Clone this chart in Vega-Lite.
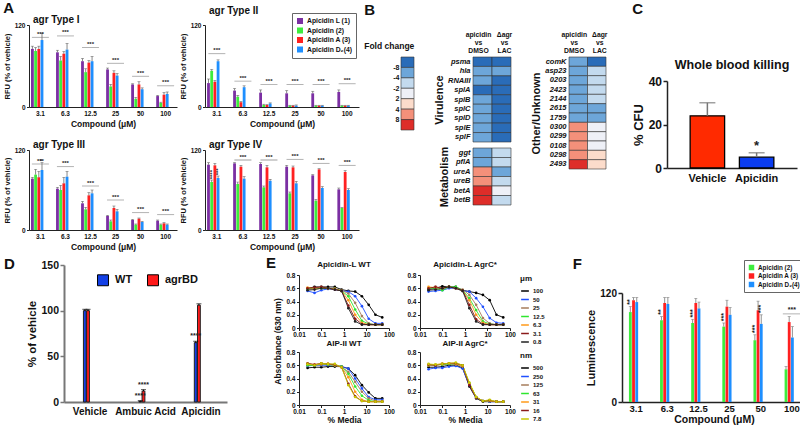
{
"$schema":"https://vega.github.io/schema/vega-lite/v6.json",
"background":"white",
"padding":{"left":2,"top":0,"right":0,"bottom":0},
"config":{
 "font":"Liberation Sans",
 "view":{"stroke":null},
 "axis":{"labelFont":"Liberation Sans","titleFont":"Liberation Sans","labelFontWeight":"bold","titleFontWeight":"bold","labelColor":"#111","titleColor":"#111","domainColor":"#222","tickColor":"#222","grid":false,"labelOverlap":false,"labelFlush":false,"tickSize":2.5,"labelPadding":1.5,"titlePadding":3,"labelFontSize":6.5,"titleFontSize":8},
 "title":{"font":"Liberation Sans","fontWeight":"bold","color":"#111"},
 "legend":{"labelFont":"Liberation Sans","titleFont":"Liberation Sans","labelFontWeight":"bold","titleFontWeight":"bold","labelColor":"#111","titleColor":"#111"},
 "text":{"font":"Liberation Sans","color":"#222"}
},
"datasets":{
 "a":[
  {"t":"I","c":"3.1","g":"Apicidin L (1)","v":85,"h":89},{"t":"I","c":"3.1","g":"Apicidin (2)","v":82,"h":87},{"t":"I","c":"3.1","g":"Apicidin A (3)","v":85,"h":89},{"t":"I","c":"3.1","g":"Apicidin D₂(4)","v":98,"h":108},
  {"t":"I","c":"6.3","g":"Apicidin L (1)","v":80,"h":83},{"t":"I","c":"6.3","g":"Apicidin (2)","v":68,"h":74},{"t":"I","c":"6.3","g":"Apicidin A (3)","v":78,"h":81},{"t":"I","c":"6.3","g":"Apicidin D₂(4)","v":84,"h":93},
  {"t":"I","c":"12.5","g":"Apicidin L (1)","v":67,"h":71},{"t":"I","c":"12.5","g":"Apicidin (2)","v":51,"h":56},{"t":"I","c":"12.5","g":"Apicidin A (3)","v":65,"h":68},{"t":"I","c":"12.5","g":"Apicidin D₂(4)","v":67,"h":74},
  {"t":"I","c":"25","g":"Apicidin L (1)","v":55,"h":57},{"t":"I","c":"25","g":"Apicidin (2)","v":30,"h":33},{"t":"I","c":"25","g":"Apicidin A (3)","v":50,"h":53},{"t":"I","c":"25","g":"Apicidin D₂(4)","v":46,"h":49},
  {"t":"I","c":"50","g":"Apicidin L (1)","v":33,"h":34},{"t":"I","c":"50","g":"Apicidin (2)","v":12,"h":14},{"t":"I","c":"50","g":"Apicidin A (3)","v":33,"h":37},{"t":"I","c":"50","g":"Apicidin D₂(4)","v":26,"h":28},
  {"t":"I","c":"100","g":"Apicidin L (1)","v":16,"h":17},{"t":"I","c":"100","g":"Apicidin (2)","v":6,"h":7},{"t":"I","c":"100","g":"Apicidin A (3)","v":18,"h":21},{"t":"I","c":"100","g":"Apicidin D₂(4)","v":19,"h":22},
  {"t":"II","c":"3.1","g":"Apicidin L (1)","v":35,"h":41},{"t":"II","c":"3.1","g":"Apicidin (2)","v":53,"h":55},{"t":"II","c":"3.1","g":"Apicidin A (3)","v":37,"h":39},{"t":"II","c":"3.1","g":"Apicidin D₂(4)","v":67,"h":69},
  {"t":"II","c":"6.3","g":"Apicidin L (1)","v":24,"h":27},{"t":"II","c":"6.3","g":"Apicidin (2)","v":15,"h":17},{"t":"II","c":"6.3","g":"Apicidin A (3)","v":7,"h":8},{"t":"II","c":"6.3","g":"Apicidin D₂(4)","v":29,"h":31},
  {"t":"II","c":"12.5","g":"Apicidin L (1)","v":21,"h":25},{"t":"II","c":"12.5","g":"Apicidin (2)","v":3,"h":4},{"t":"II","c":"12.5","g":"Apicidin A (3)","v":3,"h":3.5},{"t":"II","c":"12.5","g":"Apicidin D₂(4)","v":5,"h":6},
  {"t":"II","c":"25","g":"Apicidin L (1)","v":20,"h":24},{"t":"II","c":"25","g":"Apicidin (2)","v":2,"h":2.5},{"t":"II","c":"25","g":"Apicidin A (3)","v":2,"h":2.5},{"t":"II","c":"25","g":"Apicidin D₂(4)","v":2,"h":3},
  {"t":"II","c":"50","g":"Apicidin L (1)","v":20,"h":23},{"t":"II","c":"50","g":"Apicidin (2)","v":2,"h":2.5},{"t":"II","c":"50","g":"Apicidin A (3)","v":2,"h":2.5},{"t":"II","c":"50","g":"Apicidin D₂(4)","v":2,"h":2.5},
  {"t":"II","c":"100","g":"Apicidin L (1)","v":22,"h":25},{"t":"II","c":"100","g":"Apicidin (2)","v":2,"h":2.5},{"t":"II","c":"100","g":"Apicidin A (3)","v":2,"h":2.5},{"t":"II","c":"100","g":"Apicidin D₂(4)","v":2,"h":2.5},
  {"t":"III","c":"3.1","g":"Apicidin L (1)","v":77,"h":79},{"t":"III","c":"3.1","g":"Apicidin (2)","v":83,"h":91},{"t":"III","c":"3.1","g":"Apicidin A (3)","v":79,"h":88},{"t":"III","c":"3.1","g":"Apicidin D₂(4)","v":90,"h":101},
  {"t":"III","c":"6.3","g":"Apicidin L (1)","v":62,"h":64},{"t":"III","c":"6.3","g":"Apicidin (2)","v":60,"h":67},{"t":"III","c":"6.3","g":"Apicidin A (3)","v":70,"h":79},{"t":"III","c":"6.3","g":"Apicidin D₂(4)","v":80,"h":88},
  {"t":"III","c":"12.5","g":"Apicidin L (1)","v":40,"h":43},{"t":"III","c":"12.5","g":"Apicidin (2)","v":31,"h":34},{"t":"III","c":"12.5","g":"Apicidin A (3)","v":52,"h":56},{"t":"III","c":"12.5","g":"Apicidin D₂(4)","v":55,"h":60},
  {"t":"III","c":"25","g":"Apicidin L (1)","v":21,"h":22},{"t":"III","c":"25","g":"Apicidin (2)","v":13,"h":15},{"t":"III","c":"25","g":"Apicidin A (3)","v":33,"h":36},{"t":"III","c":"25","g":"Apicidin D₂(4)","v":28,"h":31},
  {"t":"III","c":"50","g":"Apicidin L (1)","v":15,"h":16},{"t":"III","c":"50","g":"Apicidin (2)","v":8,"h":9},{"t":"III","c":"50","g":"Apicidin A (3)","v":17,"h":18},{"t":"III","c":"50","g":"Apicidin D₂(4)","v":12,"h":13},
  {"t":"III","c":"100","g":"Apicidin L (1)","v":14,"h":15},{"t":"III","c":"100","g":"Apicidin (2)","v":8,"h":9},{"t":"III","c":"100","g":"Apicidin A (3)","v":10,"h":11},{"t":"III","c":"100","g":"Apicidin D₂(4)","v":8,"h":9},
  {"t":"IV","c":"3.1","g":"Apicidin L (1)","v":98,"h":101},{"t":"IV","c":"3.1","g":"Apicidin (2)","v":72,"h":75},{"t":"IV","c":"3.1","g":"Apicidin A (3)","v":97,"h":100},{"t":"IV","c":"3.1","g":"Apicidin D₂(4)","v":78,"h":81},
  {"t":"IV","c":"6.3","g":"Apicidin L (1)","v":100,"h":101},{"t":"IV","c":"6.3","g":"Apicidin (2)","v":69,"h":72},{"t":"IV","c":"6.3","g":"Apicidin A (3)","v":95,"h":97},{"t":"IV","c":"6.3","g":"Apicidin D₂(4)","v":77,"h":80},
  {"t":"IV","c":"12.5","g":"Apicidin L (1)","v":99,"h":101},{"t":"IV","c":"12.5","g":"Apicidin (2)","v":64,"h":66},{"t":"IV","c":"12.5","g":"Apicidin A (3)","v":94,"h":97},{"t":"IV","c":"12.5","g":"Apicidin D₂(4)","v":74,"h":76},
  {"t":"IV","c":"25","g":"Apicidin L (1)","v":95,"h":97},{"t":"IV","c":"25","g":"Apicidin (2)","v":55,"h":57},{"t":"IV","c":"25","g":"Apicidin A (3)","v":94,"h":96},{"t":"IV","c":"25","g":"Apicidin D₂(4)","v":70,"h":73},
  {"t":"IV","c":"50","g":"Apicidin L (1)","v":82,"h":83},{"t":"IV","c":"50","g":"Apicidin (2)","v":44,"h":46},{"t":"IV","c":"50","g":"Apicidin A (3)","v":91,"h":92},{"t":"IV","c":"50","g":"Apicidin D₂(4)","v":63,"h":65},
  {"t":"IV","c":"100","g":"Apicidin L (1)","v":61,"h":63},{"t":"IV","c":"100","g":"Apicidin (2)","v":33,"h":34},{"t":"IV","c":"100","g":"Apicidin A (3)","v":87,"h":89},{"t":"IV","c":"100","g":"Apicidin D₂(4)","v":60,"h":62}
 ],
 "sa":[
  {"t":"I","c":"3.1","y":102},{"t":"I","c":"6.3","y":104},{"t":"I","c":"12.5","y":87},{"t":"I","c":"25","y":64},{"t":"I","c":"50","y":45},{"t":"I","c":"100","y":31},
  {"t":"II","c":"3.1","y":78},{"t":"II","c":"6.3","y":38},{"t":"II","c":"12.5","y":33},{"t":"II","c":"25","y":33},{"t":"II","c":"50","y":33},{"t":"II","c":"100","y":34},
  {"t":"III","c":"3.1","y":99},{"t":"III","c":"6.3","y":95},{"t":"III","c":"12.5","y":66},{"t":"III","c":"25","y":45},{"t":"III","c":"50","y":26},{"t":"III","c":"100","y":23},
  {"t":"IV","c":"6.3","y":105},{"t":"IV","c":"12.5","y":105},{"t":"IV","c":"25","y":106},{"t":"IV","c":"50","y":100},{"t":"IV","c":"100","y":97}
 ],
 "sv":[
  {"t":"III","c":"3.1","g":"Apicidin D₂(4)","y":103,"s":"*"},
  {"t":"IV","c":"3.1","g":"Apicidin (2)","y":76,"s":"****"},
  {"t":"IV","c":"3.1","g":"Apicidin D₂(4)","y":82,"s":"***"}
 ],
 "fc":[{"k":0,"lo":0,"hi":1},{"k":1,"lo":1,"hi":2},{"k":2,"lo":2,"hi":3},{"k":3,"lo":3,"hi":4},{"k":4,"lo":4,"hi":5},{"k":5,"lo":5,"hi":6},{"k":6,"lo":6,"hi":7}],
 "hm":[
  {"s":"V","gene":"psma","col":"apicidin|vs|DMSO","k":0},{"s":"V","gene":"psma","col":"Δagr|vs|LAC","k":0},
  {"s":"V","gene":"hla","col":"apicidin|vs|DMSO","k":1},{"s":"V","gene":"hla","col":"Δagr|vs|LAC","k":1},
  {"s":"V","gene":"RNAIII","col":"apicidin|vs|DMSO","k":1},{"s":"V","gene":"RNAIII","col":"Δagr|vs|LAC","k":0},
  {"s":"V","gene":"splA","col":"apicidin|vs|DMSO","k":0},{"s":"V","gene":"splA","col":"Δagr|vs|LAC","k":0},
  {"s":"V","gene":"splB","col":"apicidin|vs|DMSO","k":1},{"s":"V","gene":"splB","col":"Δagr|vs|LAC","k":0},
  {"s":"V","gene":"splC","col":"apicidin|vs|DMSO","k":1},{"s":"V","gene":"splC","col":"Δagr|vs|LAC","k":0},
  {"s":"V","gene":"splD","col":"apicidin|vs|DMSO","k":1},{"s":"V","gene":"splD","col":"Δagr|vs|LAC","k":0},
  {"s":"V","gene":"splE","col":"apicidin|vs|DMSO","k":1},{"s":"V","gene":"splE","col":"Δagr|vs|LAC","k":0},
  {"s":"V","gene":"splF","col":"apicidin|vs|DMSO","k":1},{"s":"V","gene":"splF","col":"Δagr|vs|LAC","k":0},
  {"s":"M","gene":"ggt","col":"apicidin|vs|DMSO","k":1},{"s":"M","gene":"ggt","col":"Δagr|vs|LAC","k":2},
  {"s":"M","gene":"pflA","col":"apicidin|vs|DMSO","k":1},{"s":"M","gene":"pflA","col":"Δagr|vs|LAC","k":2},
  {"s":"M","gene":"ureA","col":"apicidin|vs|DMSO","k":5},{"s":"M","gene":"ureA","col":"Δagr|vs|LAC","k":1},
  {"s":"M","gene":"ureB","col":"apicidin|vs|DMSO","k":5},{"s":"M","gene":"ureB","col":"Δagr|vs|LAC","k":2},
  {"s":"M","gene":"betA","col":"apicidin|vs|DMSO","k":6},{"s":"M","gene":"betA","col":"Δagr|vs|LAC","k":3},
  {"s":"M","gene":"betB","col":"apicidin|vs|DMSO","k":6},{"s":"M","gene":"betB","col":"Δagr|vs|LAC","k":2},
  {"s":"O","gene":"comK","col":"apicidin|vs|DMSO","k":1},{"s":"O","gene":"comK","col":"Δagr|vs|LAC","k":0},
  {"s":"O","gene":"asp23","col":"apicidin|vs|DMSO","k":1},{"s":"O","gene":"asp23","col":"Δagr|vs|LAC","k":2},
  {"s":"O","gene":"0203","col":"apicidin|vs|DMSO","k":1},{"s":"O","gene":"0203","col":"Δagr|vs|LAC","k":2},
  {"s":"O","gene":"2423","col":"apicidin|vs|DMSO","k":1},{"s":"O","gene":"2423","col":"Δagr|vs|LAC","k":2},
  {"s":"O","gene":"2144","col":"apicidin|vs|DMSO","k":1},{"s":"O","gene":"2144","col":"Δagr|vs|LAC","k":2},
  {"s":"O","gene":"2615","col":"apicidin|vs|DMSO","k":1},{"s":"O","gene":"2615","col":"Δagr|vs|LAC","k":1},
  {"s":"O","gene":"1759","col":"apicidin|vs|DMSO","k":1},{"s":"O","gene":"1759","col":"Δagr|vs|LAC","k":1},
  {"s":"O","gene":"0300","col":"apicidin|vs|DMSO","k":5},{"s":"O","gene":"0300","col":"Δagr|vs|LAC","k":3},
  {"s":"O","gene":"0299","col":"apicidin|vs|DMSO","k":5},{"s":"O","gene":"0299","col":"Δagr|vs|LAC","k":3},
  {"s":"O","gene":"0108","col":"apicidin|vs|DMSO","k":5},{"s":"O","gene":"0108","col":"Δagr|vs|LAC","k":3},
  {"s":"O","gene":"0298","col":"apicidin|vs|DMSO","k":5},{"s":"O","gene":"0298","col":"Δagr|vs|LAC","k":4},
  {"s":"O","gene":"2493","col":"apicidin|vs|DMSO","k":6},{"s":"O","gene":"2493","col":"Δagr|vs|LAC","k":4}
 ],
 "wb":[{"g":"Vehicle","v":24,"h":30,"sig":""},{"g":"Apicidin","v":5,"h":7,"sig":"*"}],
 "dd":[
  {"g":"Vehicle","s":"WT","v":100,"h":101.5,"sig":""},{"g":"Vehicle","s":"agrBD","v":100,"h":101.5,"sig":""},
  {"g":"Ambuic Acid","s":"WT","v":0.5,"h":1.5,"sig":"****"},{"g":"Ambuic Acid","s":"agrBD","v":12,"h":13.5,"sig":"****"},
  {"g":"Apicidin","s":"WT","v":65,"h":66.5,"sig":"****"},{"g":"Apicidin","s":"agrBD","v":106,"h":107.5,"sig":""}
 ],
 "f":[
  {"c":"3.1","g":"Apicidin (2)","v":99,"h":105},{"c":"3.1","g":"Apicidin A (3)","v":112,"h":115},{"c":"3.1","g":"Apicidin D₂(4)","v":110,"h":115},
  {"c":"6.3","g":"Apicidin (2)","v":90,"h":94},{"c":"6.3","g":"Apicidin A (3)","v":109,"h":115},{"c":"6.3","g":"Apicidin D₂(4)","v":108,"h":115},
  {"c":"12.5","g":"Apicidin (2)","v":87,"h":91},{"c":"12.5","g":"Apicidin A (3)","v":109,"h":114},{"c":"12.5","g":"Apicidin D₂(4)","v":103,"h":110},
  {"c":"25","g":"Apicidin (2)","v":83,"h":87},{"c":"25","g":"Apicidin A (3)","v":105,"h":112},{"c":"25","g":"Apicidin D₂(4)","v":96,"h":104},
  {"c":"50","g":"Apicidin (2)","v":68,"h":74},{"c":"50","g":"Apicidin A (3)","v":101,"h":111},{"c":"50","g":"Apicidin D₂(4)","v":86,"h":96},
  {"c":"100","g":"Apicidin (2)","v":36,"h":39},{"c":"100","g":"Apicidin A (3)","v":88,"h":94},{"c":"100","g":"Apicidin D₂(4)","v":71,"h":83}
 ],
 "fv":[
  {"c":"3.1","g":"Apicidin (2)","y":107,"s":"**"},{"c":"6.3","g":"Apicidin (2)","y":96,"s":"**"},{"c":"12.5","g":"Apicidin (2)","y":93,"s":"***"},
  {"c":"25","g":"Apicidin (2)","y":89,"s":"***"},{"c":"50","g":"Apicidin (2)","y":76,"s":"***"},{"c":"50","g":"Apicidin D₂(4)","y":98,"s":"***"}
 ],
 "fs":[{"c":"100","y":97}],
 "e":[
  {"p":"TL","c":"100","x":0.024,"y":0.6},{"p":"TL","c":"100","x":0.049,"y":0.62},{"p":"TL","c":"100","x":0.098,"y":0.62},{"p":"TL","c":"100","x":0.195,"y":0.62},{"p":"TL","c":"100","x":0.39,"y":0.62},{"p":"TL","c":"100","x":0.78,"y":0.58},{"p":"TL","c":"100","x":1.56,"y":0.56},{"p":"TL","c":"100","x":3.13,"y":0.55},{"p":"TL","c":"100","x":6.25,"y":0.48},{"p":"TL","c":"100","x":12.5,"y":0.35},{"p":"TL","c":"100","x":25,"y":0.2},{"p":"TL","c":"100","x":50,"y":0.16},
  {"p":"TL","c":"50","x":0.024,"y":0.56},{"p":"TL","c":"50","x":0.049,"y":0.53},{"p":"TL","c":"50","x":0.098,"y":0.57},{"p":"TL","c":"50","x":0.195,"y":0.59},{"p":"TL","c":"50","x":0.39,"y":0.58},{"p":"TL","c":"50","x":0.78,"y":0.56},{"p":"TL","c":"50","x":1.56,"y":0.55},{"p":"TL","c":"50","x":3.13,"y":0.48},{"p":"TL","c":"50","x":6.25,"y":0.33},{"p":"TL","c":"50","x":12.5,"y":0.14},{"p":"TL","c":"50","x":25,"y":0.07},{"p":"TL","c":"50","x":50,"y":0.07},
  {"p":"TL","c":"25","x":0.024,"y":0.58},{"p":"TL","c":"25","x":0.049,"y":0.59},{"p":"TL","c":"25","x":0.098,"y":0.6},{"p":"TL","c":"25","x":0.195,"y":0.6},{"p":"TL","c":"25","x":0.39,"y":0.59},{"p":"TL","c":"25","x":0.78,"y":0.57},{"p":"TL","c":"25","x":1.56,"y":0.52},{"p":"TL","c":"25","x":3.13,"y":0.38},{"p":"TL","c":"25","x":6.25,"y":0.18},{"p":"TL","c":"25","x":12.5,"y":0.07},{"p":"TL","c":"25","x":25,"y":0.05},{"p":"TL","c":"25","x":50,"y":0.05},
  {"p":"TL","c":"12.5","x":0.024,"y":0.59},{"p":"TL","c":"12.5","x":0.049,"y":0.6},{"p":"TL","c":"12.5","x":0.098,"y":0.6},{"p":"TL","c":"12.5","x":0.195,"y":0.6},{"p":"TL","c":"12.5","x":0.39,"y":0.59},{"p":"TL","c":"12.5","x":0.78,"y":0.56},{"p":"TL","c":"12.5","x":1.56,"y":0.48},{"p":"TL","c":"12.5","x":3.13,"y":0.28},{"p":"TL","c":"12.5","x":6.25,"y":0.11},{"p":"TL","c":"12.5","x":12.5,"y":0.06},{"p":"TL","c":"12.5","x":25,"y":0.05},{"p":"TL","c":"12.5","x":50,"y":0.05},
  {"p":"TL","c":"6.3","x":0.024,"y":0.61},{"p":"TL","c":"6.3","x":0.049,"y":0.6},{"p":"TL","c":"6.3","x":0.098,"y":0.61},{"p":"TL","c":"6.3","x":0.195,"y":0.6},{"p":"TL","c":"6.3","x":0.39,"y":0.59},{"p":"TL","c":"6.3","x":0.78,"y":0.56},{"p":"TL","c":"6.3","x":1.56,"y":0.42},{"p":"TL","c":"6.3","x":3.13,"y":0.2},{"p":"TL","c":"6.3","x":6.25,"y":0.08},{"p":"TL","c":"6.3","x":12.5,"y":0.05},{"p":"TL","c":"6.3","x":25,"y":0.05},{"p":"TL","c":"6.3","x":50,"y":0.05},
  {"p":"TL","c":"3.1","x":0.024,"y":0.6},{"p":"TL","c":"3.1","x":0.049,"y":0.61},{"p":"TL","c":"3.1","x":0.098,"y":0.62},{"p":"TL","c":"3.1","x":0.195,"y":0.6},{"p":"TL","c":"3.1","x":0.39,"y":0.58},{"p":"TL","c":"3.1","x":0.78,"y":0.56},{"p":"TL","c":"3.1","x":1.56,"y":0.34},{"p":"TL","c":"3.1","x":3.13,"y":0.14},{"p":"TL","c":"3.1","x":6.25,"y":0.06},{"p":"TL","c":"3.1","x":12.5,"y":0.05},{"p":"TL","c":"3.1","x":25,"y":0.05},{"p":"TL","c":"3.1","x":50,"y":0.05},
  {"p":"TL","c":"0.8","x":0.024,"y":0.57},{"p":"TL","c":"0.8","x":0.049,"y":0.58},{"p":"TL","c":"0.8","x":0.098,"y":0.6},{"p":"TL","c":"0.8","x":0.195,"y":0.6},{"p":"TL","c":"0.8","x":0.39,"y":0.58},{"p":"TL","c":"0.8","x":0.78,"y":0.56},{"p":"TL","c":"0.8","x":1.56,"y":0.3},{"p":"TL","c":"0.8","x":3.13,"y":0.1},{"p":"TL","c":"0.8","x":6.25,"y":0.05},{"p":"TL","c":"0.8","x":12.5,"y":0.05},{"p":"TL","c":"0.8","x":25,"y":0.05},{"p":"TL","c":"0.8","x":50,"y":0.05},
  {"p":"TR","c":"100","x":0.024,"y":0.58},{"p":"TR","c":"100","x":0.049,"y":0.6},{"p":"TR","c":"100","x":0.098,"y":0.63},{"p":"TR","c":"100","x":0.195,"y":0.62},{"p":"TR","c":"100","x":0.39,"y":0.62},{"p":"TR","c":"100","x":0.78,"y":0.57},{"p":"TR","c":"100","x":1.56,"y":0.55},{"p":"TR","c":"100","x":3.13,"y":0.53},{"p":"TR","c":"100","x":6.25,"y":0.5},{"p":"TR","c":"100","x":12.5,"y":0.42},{"p":"TR","c":"100","x":25,"y":0.2},{"p":"TR","c":"100","x":50,"y":0.16},
  {"p":"TR","c":"50","x":0.024,"y":0.55},{"p":"TR","c":"50","x":0.049,"y":0.56},{"p":"TR","c":"50","x":0.098,"y":0.57},{"p":"TR","c":"50","x":0.195,"y":0.6},{"p":"TR","c":"50","x":0.39,"y":0.6},{"p":"TR","c":"50","x":0.78,"y":0.56},{"p":"TR","c":"50","x":1.56,"y":0.55},{"p":"TR","c":"50","x":3.13,"y":0.45},{"p":"TR","c":"50","x":6.25,"y":0.32},{"p":"TR","c":"50","x":12.5,"y":0.15},{"p":"TR","c":"50","x":25,"y":0.08},{"p":"TR","c":"50","x":50,"y":0.07},
  {"p":"TR","c":"25","x":0.024,"y":0.6},{"p":"TR","c":"25","x":0.049,"y":0.62},{"p":"TR","c":"25","x":0.098,"y":0.6},{"p":"TR","c":"25","x":0.195,"y":0.63},{"p":"TR","c":"25","x":0.39,"y":0.6},{"p":"TR","c":"25","x":0.78,"y":0.58},{"p":"TR","c":"25","x":1.56,"y":0.5},{"p":"TR","c":"25","x":3.13,"y":0.35},{"p":"TR","c":"25","x":6.25,"y":0.15},{"p":"TR","c":"25","x":12.5,"y":0.07},{"p":"TR","c":"25","x":25,"y":0.05},{"p":"TR","c":"25","x":50,"y":0.05},
  {"p":"TR","c":"12.5","x":0.024,"y":0.6},{"p":"TR","c":"12.5","x":0.049,"y":0.6},{"p":"TR","c":"12.5","x":0.098,"y":0.57},{"p":"TR","c":"12.5","x":0.195,"y":0.62},{"p":"TR","c":"12.5","x":0.39,"y":0.62},{"p":"TR","c":"12.5","x":0.78,"y":0.57},{"p":"TR","c":"12.5","x":1.56,"y":0.45},{"p":"TR","c":"12.5","x":3.13,"y":0.27},{"p":"TR","c":"12.5","x":6.25,"y":0.1},{"p":"TR","c":"12.5","x":12.5,"y":0.06},{"p":"TR","c":"12.5","x":25,"y":0.05},{"p":"TR","c":"12.5","x":50,"y":0.05},
  {"p":"TR","c":"6.3","x":0.024,"y":0.62},{"p":"TR","c":"6.3","x":0.049,"y":0.61},{"p":"TR","c":"6.3","x":0.098,"y":0.6},{"p":"TR","c":"6.3","x":0.195,"y":0.62},{"p":"TR","c":"6.3","x":0.39,"y":0.6},{"p":"TR","c":"6.3","x":0.78,"y":0.56},{"p":"TR","c":"6.3","x":1.56,"y":0.42},{"p":"TR","c":"6.3","x":3.13,"y":0.2},{"p":"TR","c":"6.3","x":6.25,"y":0.08},{"p":"TR","c":"6.3","x":12.5,"y":0.05},{"p":"TR","c":"6.3","x":25,"y":0.05},{"p":"TR","c":"6.3","x":50,"y":0.05},
  {"p":"TR","c":"3.1","x":0.024,"y":0.6},{"p":"TR","c":"3.1","x":0.049,"y":0.62},{"p":"TR","c":"3.1","x":0.098,"y":0.6},{"p":"TR","c":"3.1","x":0.195,"y":0.62},{"p":"TR","c":"3.1","x":0.39,"y":0.6},{"p":"TR","c":"3.1","x":0.78,"y":0.57},{"p":"TR","c":"3.1","x":1.56,"y":0.35},{"p":"TR","c":"3.1","x":3.13,"y":0.13},{"p":"TR","c":"3.1","x":6.25,"y":0.06},{"p":"TR","c":"3.1","x":12.5,"y":0.05},{"p":"TR","c":"3.1","x":25,"y":0.05},{"p":"TR","c":"3.1","x":50,"y":0.05},
  {"p":"TR","c":"0.8","x":0.024,"y":0.57},{"p":"TR","c":"0.8","x":0.049,"y":0.58},{"p":"TR","c":"0.8","x":0.098,"y":0.6},{"p":"TR","c":"0.8","x":0.195,"y":0.62},{"p":"TR","c":"0.8","x":0.39,"y":0.6},{"p":"TR","c":"0.8","x":0.78,"y":0.56},{"p":"TR","c":"0.8","x":1.56,"y":0.3},{"p":"TR","c":"0.8","x":3.13,"y":0.1},{"p":"TR","c":"0.8","x":6.25,"y":0.05},{"p":"TR","c":"0.8","x":12.5,"y":0.05},{"p":"TR","c":"0.8","x":25,"y":0.05},{"p":"TR","c":"0.8","x":50,"y":0.05},
  {"p":"BL","c":"500","x":0.024,"y":0.56},{"p":"BL","c":"500","x":0.049,"y":0.57},{"p":"BL","c":"500","x":0.098,"y":0.57},{"p":"BL","c":"500","x":0.195,"y":0.58},{"p":"BL","c":"500","x":0.39,"y":0.58},{"p":"BL","c":"500","x":0.78,"y":0.58},{"p":"BL","c":"500","x":1.56,"y":0.55},{"p":"BL","c":"500","x":3.13,"y":0.45},{"p":"BL","c":"500","x":6.25,"y":0.3},{"p":"BL","c":"500","x":12.5,"y":0.19},{"p":"BL","c":"500","x":25,"y":0.1},{"p":"BL","c":"500","x":50,"y":0.1},
  {"p":"BL","c":"250","x":0.024,"y":0.59},{"p":"BL","c":"250","x":0.049,"y":0.6},{"p":"BL","c":"250","x":0.098,"y":0.6},{"p":"BL","c":"250","x":0.195,"y":0.6},{"p":"BL","c":"250","x":0.39,"y":0.6},{"p":"BL","c":"250","x":0.78,"y":0.58},{"p":"BL","c":"250","x":1.56,"y":0.55},{"p":"BL","c":"250","x":3.13,"y":0.4},{"p":"BL","c":"250","x":6.25,"y":0.25},{"p":"BL","c":"250","x":12.5,"y":0.12},{"p":"BL","c":"250","x":25,"y":0.08},{"p":"BL","c":"250","x":50,"y":0.08},
  {"p":"BL","c":"125","x":0.024,"y":0.6},{"p":"BL","c":"125","x":0.049,"y":0.6},{"p":"BL","c":"125","x":0.098,"y":0.61},{"p":"BL","c":"125","x":0.195,"y":0.61},{"p":"BL","c":"125","x":0.39,"y":0.6},{"p":"BL","c":"125","x":0.78,"y":0.58},{"p":"BL","c":"125","x":1.56,"y":0.5},{"p":"BL","c":"125","x":3.13,"y":0.35},{"p":"BL","c":"125","x":6.25,"y":0.2},{"p":"BL","c":"125","x":12.5,"y":0.1},{"p":"BL","c":"125","x":25,"y":0.06},{"p":"BL","c":"125","x":50,"y":0.06},
  {"p":"BL","c":"63","x":0.024,"y":0.6},{"p":"BL","c":"63","x":0.049,"y":0.6},{"p":"BL","c":"63","x":0.098,"y":0.62},{"p":"BL","c":"63","x":0.195,"y":0.61},{"p":"BL","c":"63","x":0.39,"y":0.6},{"p":"BL","c":"63","x":0.78,"y":0.58},{"p":"BL","c":"63","x":1.56,"y":0.47},{"p":"BL","c":"63","x":3.13,"y":0.28},{"p":"BL","c":"63","x":6.25,"y":0.14},{"p":"BL","c":"63","x":12.5,"y":0.07},{"p":"BL","c":"63","x":25,"y":0.05},{"p":"BL","c":"63","x":50,"y":0.05},
  {"p":"BL","c":"31","x":0.024,"y":0.62},{"p":"BL","c":"31","x":0.049,"y":0.61},{"p":"BL","c":"31","x":0.098,"y":0.62},{"p":"BL","c":"31","x":0.195,"y":0.62},{"p":"BL","c":"31","x":0.39,"y":0.6},{"p":"BL","c":"31","x":0.78,"y":0.57},{"p":"BL","c":"31","x":1.56,"y":0.42},{"p":"BL","c":"31","x":3.13,"y":0.2},{"p":"BL","c":"31","x":6.25,"y":0.08},{"p":"BL","c":"31","x":12.5,"y":0.05},{"p":"BL","c":"31","x":25,"y":0.05},{"p":"BL","c":"31","x":50,"y":0.05},
  {"p":"BL","c":"16","x":0.024,"y":0.63},{"p":"BL","c":"16","x":0.049,"y":0.61},{"p":"BL","c":"16","x":0.098,"y":0.63},{"p":"BL","c":"16","x":0.195,"y":0.62},{"p":"BL","c":"16","x":0.39,"y":0.61},{"p":"BL","c":"16","x":0.78,"y":0.57},{"p":"BL","c":"16","x":1.56,"y":0.32},{"p":"BL","c":"16","x":3.13,"y":0.13},{"p":"BL","c":"16","x":6.25,"y":0.06},{"p":"BL","c":"16","x":12.5,"y":0.05},{"p":"BL","c":"16","x":25,"y":0.05},{"p":"BL","c":"16","x":50,"y":0.05},
  {"p":"BL","c":"7.8","x":0.024,"y":0.62},{"p":"BL","c":"7.8","x":0.049,"y":0.6},{"p":"BL","c":"7.8","x":0.098,"y":0.63},{"p":"BL","c":"7.8","x":0.195,"y":0.62},{"p":"BL","c":"7.8","x":0.39,"y":0.62},{"p":"BL","c":"7.8","x":0.78,"y":0.57},{"p":"BL","c":"7.8","x":1.56,"y":0.3},{"p":"BL","c":"7.8","x":3.13,"y":0.12},{"p":"BL","c":"7.8","x":6.25,"y":0.06},{"p":"BL","c":"7.8","x":12.5,"y":0.05},{"p":"BL","c":"7.8","x":25,"y":0.05},{"p":"BL","c":"7.8","x":50,"y":0.05},
  {"p":"BR","c":"500","x":0.024,"y":0.57},{"p":"BR","c":"500","x":0.049,"y":0.57},{"p":"BR","c":"500","x":0.098,"y":0.58},{"p":"BR","c":"500","x":0.195,"y":0.6},{"p":"BR","c":"500","x":0.39,"y":0.6},{"p":"BR","c":"500","x":0.78,"y":0.56},{"p":"BR","c":"500","x":1.56,"y":0.28},{"p":"BR","c":"500","x":3.13,"y":0.1},{"p":"BR","c":"500","x":6.25,"y":0.05},{"p":"BR","c":"500","x":12.5,"y":0.05},{"p":"BR","c":"500","x":25,"y":0.05},{"p":"BR","c":"500","x":50,"y":0.05},
  {"p":"BR","c":"250","x":0.024,"y":0.54},{"p":"BR","c":"250","x":0.049,"y":0.56},{"p":"BR","c":"250","x":0.098,"y":0.56},{"p":"BR","c":"250","x":0.195,"y":0.58},{"p":"BR","c":"250","x":0.39,"y":0.59},{"p":"BR","c":"250","x":0.78,"y":0.55},{"p":"BR","c":"250","x":1.56,"y":0.3},{"p":"BR","c":"250","x":3.13,"y":0.11},{"p":"BR","c":"250","x":6.25,"y":0.06},{"p":"BR","c":"250","x":12.5,"y":0.05},{"p":"BR","c":"250","x":25,"y":0.05},{"p":"BR","c":"250","x":50,"y":0.05},
  {"p":"BR","c":"125","x":0.024,"y":0.6},{"p":"BR","c":"125","x":0.049,"y":0.6},{"p":"BR","c":"125","x":0.098,"y":0.61},{"p":"BR","c":"125","x":0.195,"y":0.62},{"p":"BR","c":"125","x":0.39,"y":0.61},{"p":"BR","c":"125","x":0.78,"y":0.58},{"p":"BR","c":"125","x":1.56,"y":0.32},{"p":"BR","c":"125","x":3.13,"y":0.12},{"p":"BR","c":"125","x":6.25,"y":0.06},{"p":"BR","c":"125","x":12.5,"y":0.06},{"p":"BR","c":"125","x":25,"y":0.05},{"p":"BR","c":"125","x":50,"y":0.05},
  {"p":"BR","c":"63","x":0.024,"y":0.6},{"p":"BR","c":"63","x":0.049,"y":0.61},{"p":"BR","c":"63","x":0.098,"y":0.61},{"p":"BR","c":"63","x":0.195,"y":0.62},{"p":"BR","c":"63","x":0.39,"y":0.62},{"p":"BR","c":"63","x":0.78,"y":0.6},{"p":"BR","c":"63","x":1.56,"y":0.33},{"p":"BR","c":"63","x":3.13,"y":0.12},{"p":"BR","c":"63","x":6.25,"y":0.06},{"p":"BR","c":"63","x":12.5,"y":0.06},{"p":"BR","c":"63","x":25,"y":0.05},{"p":"BR","c":"63","x":50,"y":0.05},
  {"p":"BR","c":"31","x":0.024,"y":0.6},{"p":"BR","c":"31","x":0.049,"y":0.61},{"p":"BR","c":"31","x":0.098,"y":0.62},{"p":"BR","c":"31","x":0.195,"y":0.63},{"p":"BR","c":"31","x":0.39,"y":0.62},{"p":"BR","c":"31","x":0.78,"y":0.59},{"p":"BR","c":"31","x":1.56,"y":0.32},{"p":"BR","c":"31","x":3.13,"y":0.12},{"p":"BR","c":"31","x":6.25,"y":0.06},{"p":"BR","c":"31","x":12.5,"y":0.06},{"p":"BR","c":"31","x":25,"y":0.05},{"p":"BR","c":"31","x":50,"y":0.05},
  {"p":"BR","c":"16","x":0.024,"y":0.61},{"p":"BR","c":"16","x":0.049,"y":0.6},{"p":"BR","c":"16","x":0.098,"y":0.62},{"p":"BR","c":"16","x":0.195,"y":0.63},{"p":"BR","c":"16","x":0.39,"y":0.63},{"p":"BR","c":"16","x":0.78,"y":0.6},{"p":"BR","c":"16","x":1.56,"y":0.3},{"p":"BR","c":"16","x":3.13,"y":0.11},{"p":"BR","c":"16","x":6.25,"y":0.06},{"p":"BR","c":"16","x":12.5,"y":0.07},{"p":"BR","c":"16","x":25,"y":0.05},{"p":"BR","c":"16","x":50,"y":0.05},
  {"p":"BR","c":"7.8","x":0.024,"y":0.62},{"p":"BR","c":"7.8","x":0.049,"y":0.61},{"p":"BR","c":"7.8","x":0.098,"y":0.62},{"p":"BR","c":"7.8","x":0.195,"y":0.63},{"p":"BR","c":"7.8","x":0.39,"y":0.64},{"p":"BR","c":"7.8","x":0.78,"y":0.6},{"p":"BR","c":"7.8","x":1.56,"y":0.34},{"p":"BR","c":"7.8","x":3.13,"y":0.12},{"p":"BR","c":"7.8","x":6.25,"y":0.06},{"p":"BR","c":"7.8","x":12.5,"y":0.08},{"p":"BR","c":"7.8","x":25,"y":0.05},{"p":"BR","c":"7.8","x":50,"y":0.05}
 ]
},
"spacing":5,
"resolve":{"scale":{"color":"independent"},"legend":{"color":"independent"}},
"vconcat":[
 {"spacing":0,"resolve":{"scale":{"color":"independent"},"legend":{"color":"independent"}},
  "hconcat":[
   {"width":1,"height":1,"data":{"values":[]},"mark":{"type":"point","opacity":0},"encoding":{}},
   {"spacing":5,"resolve":{"scale":{"color":"independent"},"legend":{"color":"independent"}},
    "hconcat":[
     {"title":{"text":"A","anchor":"start","frame":"bounds","fontSize":15,"offset":-10},
      "columns":2,"bounds":"flush","spacing":{"row":43,"column":28},
      "resolve":{"scale":{"color":"independent"},"legend":{"color":"independent"}},
      "concat":[
       {"width":148,"height":82,"title":{"text":"agr Type I","anchor":"start","frame":"group","fontSize":10,"offset":-3,"dx":4},
        "layer":[
         {"data":{"name":"a"},"transform":[{"filter":"datum.t==='I'"}],"mark":{"type":"bar"},
          "encoding":{"x":{"field":"c","type":"ordinal","scale":{"domain":["3.1","6.3","12.5","25","50","100"],"paddingInner":0.25,"paddingOuter":0.08},"axis":{"title":"Compound (μM)","labelAngle":0,"ticks":false,"labelFontSize":6.5,"titleFontSize":8.5,"labelPadding":3}},
           "xOffset":{"field":"g","type":"nominal","scale":{"domain":["Apicidin L (1)","Apicidin (2)","Apicidin A (3)","Apicidin D₂(4)"],"paddingInner":0.12}},
           "y":{"field":"v","type":"quantitative","scale":{"domain":[0,120],"nice":false},"axis":{"title":"RFU (% of vehicle)","values":[0,20,40,60,80,100,120],"titleFontSize":7.5}},
           "color":{"field":"g","type":"nominal","scale":{"domain":["Apicidin L (1)","Apicidin (2)","Apicidin A (3)","Apicidin D₂(4)"],"range":["#7b2fa3","#3ded3d","#ff2020","#1e8fff"]},"legend":null}}},
         {"data":{"name":"a"},"transform":[{"filter":"datum.t==='I'"}],"mark":{"type":"rule","color":"#555","strokeWidth":0.7},
          "encoding":{"x":{"field":"c","type":"ordinal"},"xOffset":{"field":"g","type":"nominal"},"y":{"field":"v","type":"quantitative"},"y2":{"field":"h"}}},
         {"data":{"name":"a"},"transform":[{"filter":"datum.t==='I'"}],"mark":{"type":"tick","color":"#555","thickness":0.7,"size":3},
          "encoding":{"x":{"field":"c","type":"ordinal"},"xOffset":{"field":"g","type":"nominal"},"y":{"field":"h","type":"quantitative"}}},
         {"data":{"name":"sa"},"transform":[{"filter":"datum.t==='I'"}],"mark":{"type":"tick","color":"#777","thickness":0.8,"size":17},
          "encoding":{"x":{"field":"c","type":"ordinal"},"y":{"field":"y","type":"quantitative"}}},
         {"data":{"name":"sa"},"transform":[{"filter":"datum.t==='I'"}],"mark":{"type":"text","fontSize":6,"fontWeight":"bold","baseline":"bottom","dy":-0.5},
          "encoding":{"x":{"field":"c","type":"ordinal"},"y":{"field":"y","type":"quantitative"},"text":{"value":"***"}}}
        ]},
       {"width":154,"height":82,"title":{"text":"agr Type II","anchor":"start","frame":"group","fontSize":10,"offset":-3,"dx":4},
        "layer":[
         {"data":{"name":"a"},"transform":[{"filter":"datum.t==='II'"}],"mark":{"type":"bar"},
          "encoding":{"x":{"field":"c","type":"ordinal","scale":{"domain":["3.1","6.3","12.5","25","50","100"],"paddingInner":0.25,"paddingOuter":0.08},"axis":{"title":"Compound (μM)","labelAngle":0,"ticks":false,"labelFontSize":6.5,"titleFontSize":8.5,"labelPadding":3}},
           "xOffset":{"field":"g","type":"nominal","scale":{"domain":["Apicidin L (1)","Apicidin (2)","Apicidin A (3)","Apicidin D₂(4)"],"paddingInner":0.12}},
           "y":{"field":"v","type":"quantitative","scale":{"domain":[0,120],"nice":false},"axis":{"title":"RFU (% of vehicle)","values":[0,20,40,60,80,100,120],"titleFontSize":7.5}},
           "color":{"field":"g","type":"nominal","scale":{"domain":["Apicidin L (1)","Apicidin (2)","Apicidin A (3)","Apicidin D₂(4)"],"range":["#7b2fa3","#3ded3d","#ff2020","#1e8fff"]},
            "legend":{"orient":"none","legendX":87,"legendY":-12,"title":null,"strokeColor":"#666","fillColor":"white","padding":4,"symbolType":"square","symbolSize":36,"labelFontSize":6.8,"rowPadding":1.5,"labelOffset":3}}}},
         {"data":{"name":"a"},"transform":[{"filter":"datum.t==='II'"}],"mark":{"type":"rule","color":"#555","strokeWidth":0.7},
          "encoding":{"x":{"field":"c","type":"ordinal"},"xOffset":{"field":"g","type":"nominal"},"y":{"field":"v","type":"quantitative"},"y2":{"field":"h"}}},
         {"data":{"name":"a"},"transform":[{"filter":"datum.t==='II'"}],"mark":{"type":"tick","color":"#555","thickness":0.7,"size":3},
          "encoding":{"x":{"field":"c","type":"ordinal"},"xOffset":{"field":"g","type":"nominal"},"y":{"field":"h","type":"quantitative"}}},
         {"data":{"name":"sa"},"transform":[{"filter":"datum.t==='II'"}],"mark":{"type":"tick","color":"#777","thickness":0.8,"size":17},
          "encoding":{"x":{"field":"c","type":"ordinal"},"y":{"field":"y","type":"quantitative"}}},
         {"data":{"name":"sa"},"transform":[{"filter":"datum.t==='II'"}],"mark":{"type":"text","fontSize":6,"fontWeight":"bold","baseline":"bottom","dy":-0.5},
          "encoding":{"x":{"field":"c","type":"ordinal"},"y":{"field":"y","type":"quantitative"},"text":{"value":"***"}}}
        ]},
       {"width":148,"height":80,"title":{"text":"agr Type III","anchor":"start","frame":"group","fontSize":10,"offset":-3,"dx":4},
        "layer":[
         {"data":{"name":"a"},"transform":[{"filter":"datum.t==='III'"}],"mark":{"type":"bar"},
          "encoding":{"x":{"field":"c","type":"ordinal","scale":{"domain":["3.1","6.3","12.5","25","50","100"],"paddingInner":0.25,"paddingOuter":0.08},"axis":{"title":"Compound (μM)","labelAngle":0,"ticks":false,"labelFontSize":6.5,"titleFontSize":8.5,"labelPadding":3}},
           "xOffset":{"field":"g","type":"nominal","scale":{"domain":["Apicidin L (1)","Apicidin (2)","Apicidin A (3)","Apicidin D₂(4)"],"paddingInner":0.12}},
           "y":{"field":"v","type":"quantitative","scale":{"domain":[0,120],"nice":false},"axis":{"title":"RFU (% of vehicle)","values":[0,20,40,60,80,100,120],"titleFontSize":7.5}},
           "color":{"field":"g","type":"nominal","scale":{"domain":["Apicidin L (1)","Apicidin (2)","Apicidin A (3)","Apicidin D₂(4)"],"range":["#7b2fa3","#3ded3d","#ff2020","#1e8fff"]},"legend":null}}},
         {"data":{"name":"a"},"transform":[{"filter":"datum.t==='III'"}],"mark":{"type":"rule","color":"#555","strokeWidth":0.7},
          "encoding":{"x":{"field":"c","type":"ordinal"},"xOffset":{"field":"g","type":"nominal"},"y":{"field":"v","type":"quantitative"},"y2":{"field":"h"}}},
         {"data":{"name":"a"},"transform":[{"filter":"datum.t==='III'"}],"mark":{"type":"tick","color":"#555","thickness":0.7,"size":3},
          "encoding":{"x":{"field":"c","type":"ordinal"},"xOffset":{"field":"g","type":"nominal"},"y":{"field":"h","type":"quantitative"}}},
         {"data":{"name":"sa"},"transform":[{"filter":"datum.t==='III'"}],"mark":{"type":"tick","color":"#777","thickness":0.8,"size":17},
          "encoding":{"x":{"field":"c","type":"ordinal"},"y":{"field":"y","type":"quantitative"}}},
         {"data":{"name":"sa"},"transform":[{"filter":"datum.t==='III'"}],"mark":{"type":"text","fontSize":6,"fontWeight":"bold","baseline":"bottom","dy":-0.5},
          "encoding":{"x":{"field":"c","type":"ordinal"},"y":{"field":"y","type":"quantitative"},"text":{"value":"***"}}},
         {"data":{"name":"sv"},"transform":[{"filter":"datum.t==='III'"}],"mark":{"type":"text","fontSize":6,"fontWeight":"bold","angle":270,"align":"left","baseline":"middle"},
          "encoding":{"x":{"field":"c","type":"ordinal"},"xOffset":{"field":"g","type":"nominal"},"y":{"field":"y","type":"quantitative"},"text":{"field":"s"}}}
        ]},
       {"width":154,"height":80,"title":{"text":"agr Type IV","anchor":"start","frame":"group","fontSize":10,"offset":-3,"dx":4},
        "layer":[
         {"data":{"name":"a"},"transform":[{"filter":"datum.t==='IV'"}],"mark":{"type":"bar"},
          "encoding":{"x":{"field":"c","type":"ordinal","scale":{"domain":["3.1","6.3","12.5","25","50","100"],"paddingInner":0.25,"paddingOuter":0.08},"axis":{"title":"Compound (μM)","labelAngle":0,"ticks":false,"labelFontSize":6.5,"titleFontSize":8.5,"labelPadding":3}},
           "xOffset":{"field":"g","type":"nominal","scale":{"domain":["Apicidin L (1)","Apicidin (2)","Apicidin A (3)","Apicidin D₂(4)"],"paddingInner":0.12}},
           "y":{"field":"v","type":"quantitative","scale":{"domain":[0,120],"nice":false},"axis":{"title":"RFU (% of vehicle)","values":[0,20,40,60,80,100,120],"titleFontSize":7.5}},
           "color":{"field":"g","type":"nominal","scale":{"domain":["Apicidin L (1)","Apicidin (2)","Apicidin A (3)","Apicidin D₂(4)"],"range":["#7b2fa3","#3ded3d","#ff2020","#1e8fff"]},"legend":null}}},
         {"data":{"name":"a"},"transform":[{"filter":"datum.t==='IV'"}],"mark":{"type":"rule","color":"#555","strokeWidth":0.7},
          "encoding":{"x":{"field":"c","type":"ordinal"},"xOffset":{"field":"g","type":"nominal"},"y":{"field":"v","type":"quantitative"},"y2":{"field":"h"}}},
         {"data":{"name":"a"},"transform":[{"filter":"datum.t==='IV'"}],"mark":{"type":"tick","color":"#555","thickness":0.7,"size":3},
          "encoding":{"x":{"field":"c","type":"ordinal"},"xOffset":{"field":"g","type":"nominal"},"y":{"field":"h","type":"quantitative"}}},
         {"data":{"name":"sa"},"transform":[{"filter":"datum.t==='IV'"}],"mark":{"type":"tick","color":"#777","thickness":0.8,"size":17},
          "encoding":{"x":{"field":"c","type":"ordinal"},"y":{"field":"y","type":"quantitative"}}},
         {"data":{"name":"sa"},"transform":[{"filter":"datum.t==='IV'"}],"mark":{"type":"text","fontSize":6,"fontWeight":"bold","baseline":"bottom","dy":-0.5},
          "encoding":{"x":{"field":"c","type":"ordinal"},"y":{"field":"y","type":"quantitative"},"text":{"value":"***"}}},
         {"data":{"name":"sv"},"transform":[{"filter":"datum.t==='IV'"}],"mark":{"type":"text","fontSize":6,"fontWeight":"bold","angle":270,"align":"left","baseline":"middle"},
          "encoding":{"x":{"field":"c","type":"ordinal"},"xOffset":{"field":"g","type":"nominal"},"y":{"field":"y","type":"quantitative"},"text":{"field":"s"}}}
        ]}
      ]},
     {"spacing":25,"resolve":{"scale":{"color":"independent"},"legend":{"color":"independent"}},
      "hconcat":[
       {"title":{"text":"B","anchor":"start","frame":"bounds","fontSize":15,"offset":7},
        "spacing":5,"resolve":{"scale":{"color":"independent"},"legend":{"color":"independent"}},
        "vconcat":[
         {"width":1,"height":1,"data":{"values":[]},"mark":{"type":"point","opacity":0},"encoding":{}},
         {"spacing":18,"resolve":{"scale":{"color":"independent"},"legend":{"color":"independent"}},
          "hconcat":[
           {"width":13,"height":73,"title":{"text":"Fold change","anchor":"end","fontSize":8.5,"offset":6},
            "data":{"name":"fc"},"mark":{"type":"rect","stroke":"#333","strokeWidth":0.6},
            "encoding":{
             "y":{"field":"lo","type":"quantitative","scale":{"domain":[0,7],"reverse":true,"nice":false,"zero":false},"axis":{"values":[1,2,3,4,5,6],"labelExpr":"['','-8','-4','-2','2','4','8'][datum.value]","title":null,"domain":false,"ticks":false,"labelFontSize":7,"labelPadding":2}},
             "y2":{"field":"hi"},
             "color":{"field":"k","type":"ordinal","scale":{"domain":[0,1,2,3,4,5,6],"range":["#2a6cb8","#6da6d9","#c3daee","#eef0f7","#fcdccb","#f4907a","#de2d29"]},"legend":null}}},
           {"spacing":3,"resolve":{"scale":{"color":"independent"},"legend":{"color":"independent"}},
            "vconcat":[
             {"width":38,"height":85,"data":{"name":"hm"},"transform":[{"filter":"datum.s==='V'"}],
              "mark":{"type":"rect","stroke":"#333","strokeWidth":0.6},
              "encoding":{
               "x":{"field":"col","type":"nominal","sort":null,"axis":{"orient":"top","title":null,"labelAngle":0,"labelExpr":"split(datum.label,'|')","labelBaseline":"bottom","labelOffset":{"condition":{"test":"datum.value === 'apicidin|vs|DMSO'","value":-4},"value":3},"domain":false,"ticks":false,"labelFontSize":6.8,"labelLineHeight":8,"labelPadding":20}},
               "y":{"field":"gene","type":"nominal","sort":null,"axis":{"title":"Virulence","domain":false,"ticks":false,"labelFontStyle":"italic","labelFontSize":7.5,"titleFontSize":11,"labelPadding":3,"titlePadding":3}},
               "color":{"field":"k","type":"ordinal","scale":{"domain":[0,1,2,3,4,5,6],"range":["#2a6cb8","#6da6d9","#c3daee","#eef0f7","#fcdccb","#f4907a","#de2d29"]},"legend":null}}},
             {"width":38,"height":57,"data":{"name":"hm"},"transform":[{"filter":"datum.s==='M'"}],
              "mark":{"type":"rect","stroke":"#333","strokeWidth":0.6},
              "encoding":{
               "x":{"field":"col","type":"nominal","sort":null,"axis":null},
               "y":{"field":"gene","type":"nominal","sort":null,"axis":{"title":"Metabolism","domain":false,"ticks":false,"labelFontStyle":"italic","labelFontSize":7.5,"titleFontSize":11,"labelPadding":3,"titlePadding":3}},
               "color":{"field":"k","type":"ordinal","scale":{"domain":[0,1,2,3,4,5,6],"range":["#2a6cb8","#6da6d9","#c3daee","#eef0f7","#fcdccb","#f4907a","#de2d29"]},"legend":null}}}
            ]},
           {"width":37,"height":112,"data":{"name":"hm"},"transform":[{"filter":"datum.s==='O'"}],
            "mark":{"type":"rect","stroke":"#333","strokeWidth":0.6},
            "encoding":{
             "x":{"field":"col","type":"nominal","sort":null,"axis":{"orient":"top","title":null,"labelAngle":0,"labelExpr":"split(datum.label,'|')","labelBaseline":"bottom","labelOffset":{"condition":{"test":"datum.value === 'apicidin|vs|DMSO'","value":-4},"value":3},"domain":false,"ticks":false,"labelFontSize":6.8,"labelLineHeight":8,"labelPadding":20}},
             "y":{"field":"gene","type":"nominal","sort":null,"axis":{"title":"Other/Unknown","domain":false,"ticks":false,"labelFontStyle":"italic","labelFontSize":7.5,"titleFontSize":11,"labelPadding":3,"titlePadding":3}},
             "color":{"field":"k","type":"ordinal","scale":{"domain":[0,1,2,3,4,5,6],"range":["#2a6cb8","#6da6d9","#c3daee","#eef0f7","#fcdccb","#f4907a","#de2d29"]},"legend":null}}}
          ]}
        ]},
       {"title":{"text":"C","anchor":"start","frame":"bounds","fontSize":15,"offset":8},
        "spacing":32,"resolve":{"scale":{"color":"independent"},"legend":{"color":"independent"}},
        "vconcat":[
         {"width":1,"height":1,"data":{"values":[]},"mark":{"type":"point","opacity":0},"encoding":{}},
         {"width":130,"height":87,"title":{"text":"Whole blood killing","fontSize":12.5,"offset":4},
          "data":{"name":"wb"},
          "layer":[
           {"mark":{"type":"bar","stroke":"#000","strokeWidth":1.3},
            "encoding":{"x":{"field":"g","type":"nominal","scale":{"domain":["Vehicle","Apicidin"],"paddingInner":0.3,"paddingOuter":0.47},"axis":{"title":null,"labelAngle":0,"ticks":false,"labelFontSize":11,"domainWidth":1.5,"labelPadding":4}},
             "y":{"field":"v","type":"quantitative","scale":{"domain":[0,40],"nice":false},"axis":{"values":[0,10,20,30,40],"title":"% CFU","labelFontSize":12,"titleFontSize":13,"domainWidth":1.5,"tickWidth":1.5,"tickSize":4}},
             "color":{"field":"g","type":"nominal","scale":{"domain":["Vehicle","Apicidin"],"range":["#ff2a00","#0a3cf0"]},"legend":null}}},
           {"mark":{"type":"rule","color":"#777","strokeWidth":1.5},
            "encoding":{"x":{"field":"g","type":"nominal"},"y":{"field":"v","type":"quantitative"},"y2":{"field":"h"}}},
           {"mark":{"type":"tick","color":"#777","thickness":1.5,"size":16},
            "encoding":{"x":{"field":"g","type":"nominal"},"y":{"field":"h","type":"quantitative"}}},
           {"mark":{"type":"text","fontSize":13,"fontWeight":"bold","baseline":"bottom","dy":0},
            "encoding":{"x":{"field":"g","type":"nominal"},"y":{"field":"h","type":"quantitative"},"text":{"field":"sig"}}}
          ]}
        ]}
      ]}
    ]}
  ]},
 {"spacing":0,"resolve":{"scale":{"color":"independent"},"legend":{"color":"independent"}},
  "hconcat":[
   {"width":1,"height":1,"data":{"values":[]},"mark":{"type":"point","opacity":0},"encoding":{}},
   {"spacing":38,"resolve":{"scale":{"color":"independent"},"legend":{"color":"independent"}},
    "hconcat":[
     {"spacing":0,"resolve":{"scale":{"color":"independent"},"legend":{"color":"independent"}},
      "vconcat":[
       {"width":1,"height":1,"data":{"values":[]},"mark":{"type":"point","opacity":0},"encoding":{}},
       {"width":163,"height":137,"title":{"text":"D","anchor":"start","frame":"bounds","fontSize":15,"offset":-12,"dx":-23},
        "data":{"name":"dd"},
        "layer":[
         {"mark":{"type":"bar","stroke":"#222","strokeWidth":1},
          "encoding":{"x":{"field":"g","type":"nominal","scale":{"domain":["Vehicle","Ambuic Acid","Apicidin"],"paddingInner":0.3,"paddingOuter":0.12},"axis":{"title":null,"labelAngle":0,"ticks":false,"labelFontSize":10,"domainColor":"#777","domainWidth":2,"labelPadding":4}},
           "xOffset":{"field":"s","type":"nominal","scale":{"domain":["WT","agrBD"],"paddingInner":0.2}},
           "y":{"field":"v","type":"quantitative","scale":{"domain":[0,150],"nice":false},"axis":{"values":[0,50,100,150],"title":"% of vehicle","labelFontSize":10.5,"titleFontSize":11.5,"domainColor":"#777","domainWidth":2,"tickColor":"#777","tickWidth":1.5,"tickSize":4}},
           "color":{"field":"s","type":"nominal","scale":{"domain":["WT","agrBD"],"range":["#1340e6","#ff1a1a"]},
            "legend":{"orient":"none","legendX":33,"legendY":9,"direction":"horizontal","title":null,"symbolType":"square","symbolSize":120,"symbolStrokeColor":"#000","symbolStrokeWidth":1,"labelFontSize":11,"columnPadding":12,"labelOffset":6}}}},
         {"mark":{"type":"rule","color":"#000","strokeWidth":1},
          "encoding":{"x":{"field":"g","type":"nominal"},"xOffset":{"field":"s","type":"nominal"},"y":{"field":"v","type":"quantitative"},"y2":{"field":"h"}}},
         {"mark":{"type":"tick","color":"#000","thickness":1,"size":5},
          "encoding":{"x":{"field":"g","type":"nominal"},"xOffset":{"field":"s","type":"nominal"},"y":{"field":"h","type":"quantitative"}}},
         {"mark":{"type":"text","fontSize":7,"fontWeight":"bold","baseline":"bottom","dy":-2},
          "encoding":{"x":{"field":"g","type":"nominal"},"xOffset":{"field":"s","type":"nominal"},"y":{"field":"h","type":"quantitative"},"text":{"field":"sig"}}}
        ]}
      ]},
     {"spacing":27,"resolve":{"scale":{"color":"independent"},"legend":{"color":"independent"}},
      "hconcat":[
       {"spacing":-1,"resolve":{"scale":{"color":"independent"},"legend":{"color":"independent"}},
        "vconcat":[
         {"width":1,"height":1,"data":{"values":[]},"mark":{"type":"point","opacity":0},"encoding":{}},
         {"title":{"text":"E","anchor":"start","frame":"bounds","fontSize":15,"offset":-10,"dx":-8},
          "columns":2,"bounds":"flush","spacing":{"row":24,"column":31},
          "resolve":{"scale":{"color":"independent"},"legend":{"color":"independent"}},
          "concat":[
           {"width":90,"height":53,"title":{"text":"Apicidin-L  WT","fontSize":8,"offset":3},
            "data":{"name":"e"},"transform":[{"filter":"datum.p==='TL'"}],
            "encoding":{
             "x":{"field":"x","type":"quantitative","scale":{"type":"log","domain":[0.01,100]},"axis":{"values":[0.01,0.1,1,10,100],"format":"~g","title":null,"labelPadding":1}},
             "y":{"field":"y","type":"quantitative","scale":{"domain":[0,0.8],"nice":false},"axis":{"values":[0,0.2,0.4,0.6,0.8],"format":"~g","title":"Absorbance (630 nm)","titleFontSize":8.5,"titleY":66}},
             "color":{"field":"c","type":"nominal","scale":{"domain":["100","50","25","12.5","6.3","3.1","0.8"],"range":["#000000","#1f4fff","#a67c5b","#2ee62e","#ff9a1a","#8b1a1a","#222222"]},"legend":null}},
            "layer":[{"mark":{"type":"line","strokeWidth":0.9}},{"mark":{"type":"point","filled":true,"size":7,"opacity":1}}]},
           {"width":90,"height":53,"title":{"text":"Apicidin-L  AgrC*","fontSize":8,"offset":3},
            "data":{"name":"e"},"transform":[{"filter":"datum.p==='TR'"}],
            "encoding":{
             "x":{"field":"x","type":"quantitative","scale":{"type":"log","domain":[0.01,100]},"axis":{"values":[0.01,0.1,1,10,100],"format":"~g","title":null,"labelPadding":1}},
             "y":{"field":"y","type":"quantitative","scale":{"domain":[0,0.8],"nice":false},"axis":{"values":[0,0.2,0.4,0.6,0.8],"format":"~g","title":null}},
             "color":{"field":"c","type":"nominal","scale":{"domain":["100","50","25","12.5","6.3","3.1","0.8"],"range":["#000000","#1f4fff","#a67c5b","#2ee62e","#ff9a1a","#8b1a1a","#222222"]},
              "legend":{"title":"μm","orient":"right","offset":10,"labelFontSize":6,"titleFontSize":8,"symbolType":"stroke","symbolSize":60,"symbolStrokeWidth":1.5,"rowPadding":0.5,"titlePadding":3,"labelOffset":3}}},
            "layer":[{"mark":{"type":"line","strokeWidth":0.9}},{"mark":{"type":"point","filled":true,"size":7,"opacity":1}}]},
           {"width":90,"height":53,"title":{"text":"AIP-II  WT","fontSize":8,"offset":1},
            "data":{"name":"e"},"transform":[{"filter":"datum.p==='BL'"}],
            "encoding":{
             "x":{"field":"x","type":"quantitative","scale":{"type":"log","domain":[0.01,100]},"axis":{"values":[0.01,0.1,1,10,100],"format":"~g","title":"% Media","titleFontSize":8.5,"titlePadding":0,"labelPadding":1}},
             "y":{"field":"y","type":"quantitative","scale":{"domain":[0,0.8],"nice":false},"axis":{"values":[0,0.2,0.4,0.6,0.8],"format":"~g","title":null}},
             "color":{"field":"c","type":"nominal","scale":{"domain":["500","250","125","63","31","16","7.8"],"range":["#000000","#1f4fff","#a67c5b","#2ee62e","#ff9a1a","#8b1a1a","#c8c800"]},"legend":null}},
            "layer":[{"mark":{"type":"line","strokeWidth":0.9}},{"mark":{"type":"point","filled":true,"size":7,"opacity":1}}]},
           {"width":90,"height":53,"title":{"text":"AIP-II    AgrC*","fontSize":8,"offset":1},
            "data":{"name":"e"},"transform":[{"filter":"datum.p==='BR'"}],
            "encoding":{
             "x":{"field":"x","type":"quantitative","scale":{"type":"log","domain":[0.01,100]},"axis":{"values":[0.01,0.1,1,10,100],"format":"~g","title":"% Media","titleFontSize":8.5,"titlePadding":0,"labelPadding":1}},
             "y":{"field":"y","type":"quantitative","scale":{"domain":[0,0.8],"nice":false},"axis":{"values":[0,0.2,0.4,0.6,0.8],"format":"~g","title":null}},
             "color":{"field":"c","type":"nominal","scale":{"domain":["500","250","125","63","31","16","7.8"],"range":["#000000","#1f4fff","#a67c5b","#2ee62e","#ff9a1a","#8b1a1a","#c8c800"]},
              "legend":{"title":"nm","orient":"right","offset":10,"labelFontSize":6,"titleFontSize":8,"symbolType":"stroke","symbolSize":60,"symbolStrokeWidth":1.5,"rowPadding":0.5,"titlePadding":3,"labelOffset":3}}},
            "layer":[{"mark":{"type":"line","strokeWidth":0.9}},{"mark":{"type":"point","filled":true,"size":7,"opacity":1}}]}
          ]}
        ]},
       {"spacing":-1,"resolve":{"scale":{"color":"independent"},"legend":{"color":"independent"}},
        "vconcat":[
         {"width":1,"height":1,"data":{"values":[]},"mark":{"type":"point","opacity":0},"encoding":{}},
         {"width":184,"height":109,"title":{"text":"F","anchor":"start","frame":"bounds","fontSize":15,"offset":-12,"dx":-13},
          "layer":[
           {"data":{"name":"f"},"mark":{"type":"bar"},
            "encoding":{"x":{"field":"c","type":"ordinal","scale":{"domain":["3.1","6.3","12.5","25","50","100"],"paddingInner":0.33,"paddingOuter":0.12},"axis":{"title":"Compound (μM)","labelAngle":0,"ticks":false,"labelFontSize":9.5,"titleFontSize":10.5,"labelPadding":1,"titlePadding":2,"domainWidth":1.5}},
             "xOffset":{"field":"g","type":"nominal","scale":{"domain":["Apicidin (2)","Apicidin A (3)","Apicidin D₂(4)"],"paddingInner":0.15}},
             "y":{"field":"v","type":"quantitative","scale":{"domain":[0,120],"nice":false},"axis":{"values":[0,20,40,60,80,100,120],"title":"Luminescence","labelFontSize":10,"titleFontSize":11,"domainWidth":1.5,"tickWidth":1.5,"tickSize":4}},
             "color":{"field":"g","type":"nominal","scale":{"domain":["Apicidin (2)","Apicidin A (3)","Apicidin D₂(4)"],"range":["#3ded3d","#ff2020","#1e8fff"]},
              "legend":{"orient":"none","legendX":122,"legendY":-33,"title":null,"strokeColor":"#666","fillColor":"white","padding":4,"symbolType":"square","symbolSize":30,"labelFontSize":6.3,"rowPadding":1.5,"labelOffset":3}}}},
           {"data":{"name":"f"},"mark":{"type":"rule","color":"#777","strokeWidth":0.8},
            "encoding":{"x":{"field":"c","type":"ordinal"},"xOffset":{"field":"g","type":"nominal"},"y":{"field":"v","type":"quantitative"},"y2":{"field":"h"}}},
           {"data":{"name":"f"},"mark":{"type":"tick","color":"#777","thickness":0.8,"size":3},
            "encoding":{"x":{"field":"c","type":"ordinal"},"xOffset":{"field":"g","type":"nominal"},"y":{"field":"h","type":"quantitative"}}},
           {"data":{"name":"fs"},"mark":{"type":"tick","color":"#777","thickness":0.8,"size":18},
            "encoding":{"x":{"field":"c","type":"ordinal"},"y":{"field":"y","type":"quantitative"}}},
           {"data":{"name":"fs"},"mark":{"type":"text","fontSize":7,"fontWeight":"bold","baseline":"bottom","dy":-0.5},
            "encoding":{"x":{"field":"c","type":"ordinal"},"y":{"field":"y","type":"quantitative"},"text":{"value":"***"}}},
           {"data":{"name":"fv"},"mark":{"type":"text","fontSize":7,"fontWeight":"bold","angle":270,"align":"left","baseline":"middle"},
            "encoding":{"x":{"field":"c","type":"ordinal"},"xOffset":{"field":"g","type":"nominal"},"y":{"field":"y","type":"quantitative"},"text":{"field":"s"}}}
          ]}
        ]}
      ]}
    ]}
  ]}
]
}
